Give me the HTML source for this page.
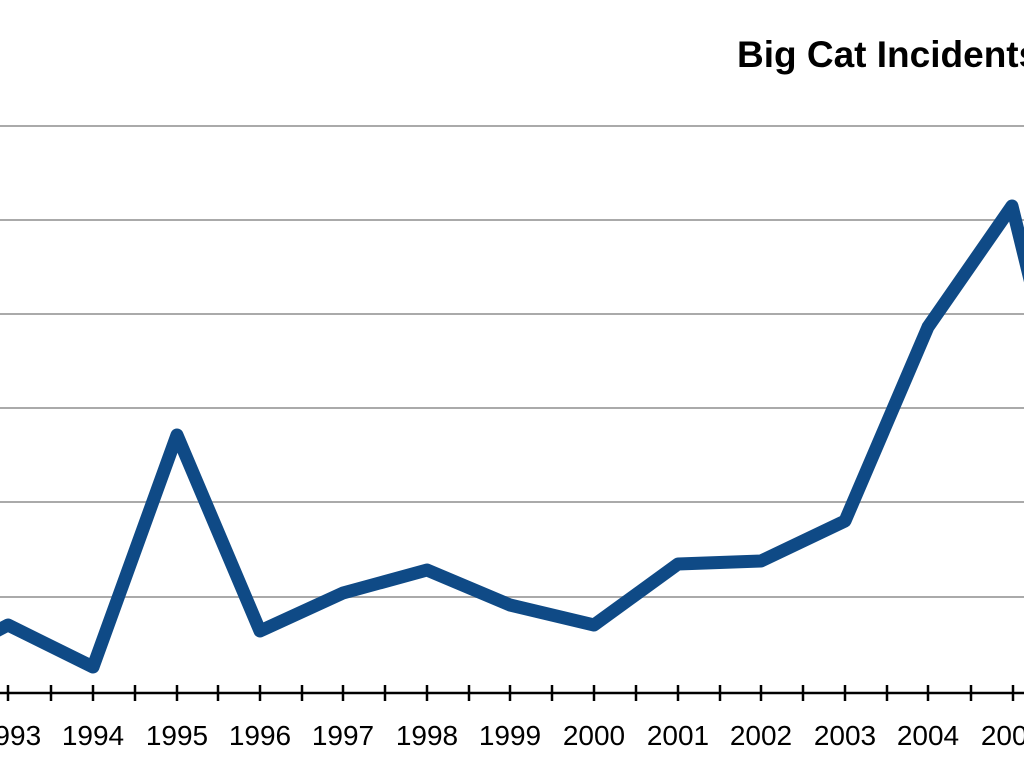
<!DOCTYPE html>
<html><head><style>
html,body{margin:0;padding:0;background:#fff;width:1024px;height:768px;overflow:hidden}
</style></head><body>
<svg width="1024" height="768" xmlns="http://www.w3.org/2000/svg">
<rect width="1024" height="768" fill="#fff"/>
<text x="737" y="67" font-family="Liberation Sans, sans-serif" font-weight="bold" font-size="37" fill="#000">Big Cat Incidents</text>
<g stroke="#aaa" stroke-width="2">
<line x1="0" y1="126" x2="1024" y2="126"/>
<line x1="0" y1="220" x2="1024" y2="220"/>
<line x1="0" y1="314" x2="1024" y2="314"/>
<line x1="0" y1="408" x2="1024" y2="408"/>
<line x1="0" y1="502" x2="1024" y2="502"/>
<line x1="0" y1="597" x2="1024" y2="597"/>
</g>
<line x1="0" y1="693" x2="1024" y2="693" stroke="#000" stroke-width="2.5"/>
<polyline fill="none" stroke="#0f4a86" stroke-width="13" stroke-linejoin="round" stroke-linecap="round"
points="-40,650 8,625 93,667 177,435 260,631 343,593 427,570 510,605 594,625 678,564 761,561 845,521 928,327 1012,206 1035,300"/>
<g font-family="Liberation Sans, sans-serif" font-size="28" fill="#000" text-anchor="middle">
<text x="10" y="745">1993</text>
<text x="93" y="745">1994</text>
<text x="177" y="745">1995</text>
<text x="260" y="745">1996</text>
<text x="343" y="745">1997</text>
<text x="427" y="745">1998</text>
<text x="510" y="745">1999</text>
<text x="594" y="745">2000</text>
<text x="678" y="745">2001</text>
<text x="761" y="745">2002</text>
<text x="845" y="745">2003</text>
<text x="928" y="745">2004</text>
<text x="1012" y="745">2005</text>
</g>
<g stroke="#000" stroke-width="2.5">
<line x1="8" y1="685" x2="8" y2="701"/><line x1="51" y1="685" x2="51" y2="701"/>
<line x1="93" y1="685" x2="93" y2="701"/><line x1="135" y1="685" x2="135" y2="701"/>
<line x1="177" y1="685" x2="177" y2="701"/><line x1="218" y1="685" x2="218" y2="701"/>
<line x1="260" y1="685" x2="260" y2="701"/><line x1="302" y1="685" x2="302" y2="701"/>
<line x1="343" y1="685" x2="343" y2="701"/><line x1="385" y1="685" x2="385" y2="701"/>
<line x1="427" y1="685" x2="427" y2="701"/><line x1="469" y1="685" x2="469" y2="701"/>
<line x1="510" y1="685" x2="510" y2="701"/><line x1="552" y1="685" x2="552" y2="701"/>
<line x1="594" y1="685" x2="594" y2="701"/><line x1="636" y1="685" x2="636" y2="701"/>
<line x1="678" y1="685" x2="678" y2="701"/><line x1="720" y1="685" x2="720" y2="701"/>
<line x1="761" y1="685" x2="761" y2="701"/><line x1="803" y1="685" x2="803" y2="701"/>
<line x1="845" y1="685" x2="845" y2="701"/><line x1="887" y1="685" x2="887" y2="701"/>
<line x1="928" y1="685" x2="928" y2="701"/><line x1="971" y1="685" x2="971" y2="701"/>
<line x1="1013" y1="685" x2="1013" y2="701"/>
</g>
</svg>
</body></html>
